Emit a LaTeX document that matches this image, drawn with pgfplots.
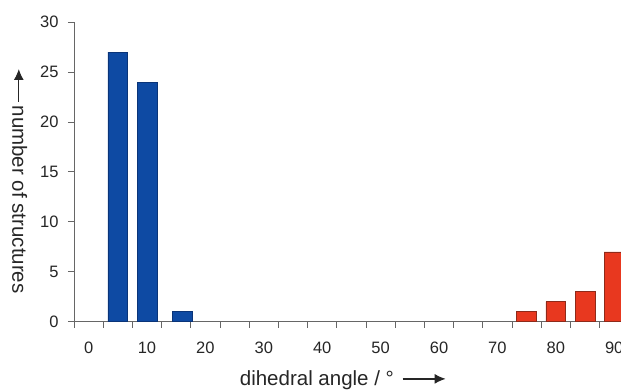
\documentclass[border=0pt]{standalone}
\usepackage{fontspec}
\setmainfont{Liberation Sans}
\usepackage{pgfplots}
\pgfplotsset{compat=1.18}
\usetikzlibrary{arrows.meta}
\definecolor{barblue}{HTML}{0E4AA3}
\definecolor{barblueedge}{HTML}{0A3478}
\definecolor{barred}{HTML}{E8381F}
\definecolor{barrededge}{HTML}{8E2A1A}
\definecolor{axisgray}{HTML}{666666}
\begin{document}
\begin{tikzpicture}
\useasboundingbox (0pt,0pt) rectangle (621pt,390pt);
\begin{axis}[
  at={(74pt,68.3pt)}, anchor=south west,
  scale only axis, width=554.8pt, height=299.4pt,
  xmin=-2.5, xmax=92.5, ymin=0, ymax=30,
  axis x line=bottom, axis y line=left,
  axis line style={-, draw=axisgray, line width=1pt},
  tick style={draw=axisgray, line width=1pt},
  tick align=outside, major tick length=6pt,
  xtick={-2.5,2.5,...,92.5}, xticklabels={},
  extra x ticks={0,10,...,90},
  extra x tick style={major tick length=0pt},
  ytick={0,5,...,30},
  /pgf/number format/assume math mode=true,
  tick label style={font=\fontsize{16.5}{18}\selectfont, text=black!85},
  xticklabel style={yshift=-17pt},
  yticklabel style={xshift=-6pt},
  xlabel={dihedral angle / °\hspace{8pt}\tikz[baseline=-0.6ex]\draw[line width=1.3pt,-{Latex[length=11pt,width=10pt]}] (0,0)--(43pt,0);},
  ylabel={\tikz[baseline=-0.6ex]\draw[line width=1.3pt,{Latex[length=11pt,width=10pt]}-] (0,0)--(33pt,0);\hspace{3pt}number of structures},
  every axis x label/.style={at={(axis description cs:0.485,-0.195)}, anchor=center, font=\fontsize{20.5}{22}\selectfont, text=black!85},
  every axis y label/.style={at={(axis description cs:-0.098,0.47)}, anchor=center, rotate=-90, font=\fontsize{20.5}{22}\selectfont, text=black!85},
  ybar, bar width=3.42, bar shift=0pt,
  clip=false,
]
\addplot[fill=barblue, draw=barblueedge, line width=0.6pt] coordinates {(5,27) (10,24) (16,1)};
\addplot[fill=barred, draw=barrededge, line width=0.6pt] coordinates {(75,1) (80,2) (85,3) (90,7)};
\end{axis}
\end{tikzpicture}
\end{document}
